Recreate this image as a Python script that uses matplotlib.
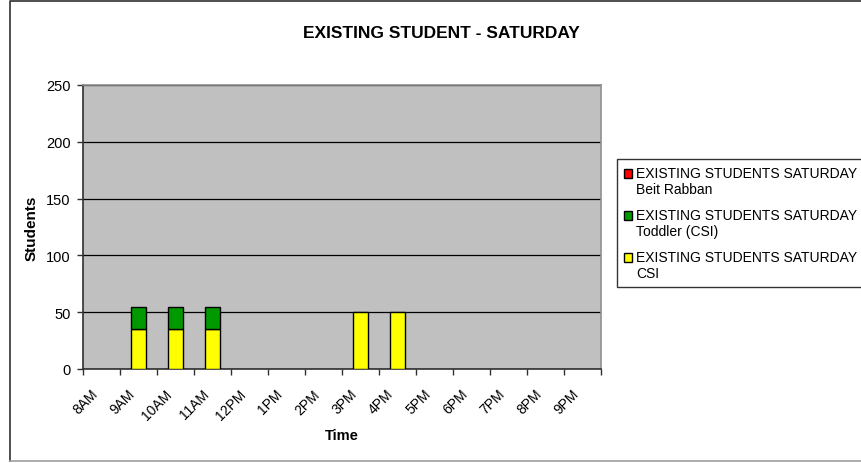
import numpy as np
import matplotlib.pyplot as plt
from matplotlib.patches import Patch, Rectangle
from matplotlib.lines import Line2D
from matplotlib.legend_handler import HandlerPatch
from matplotlib.transforms import ScaledTranslation

plt.rcParams['font.family'] = ['Liberation Sans', 'DejaVu Sans']

times = ['8AM', '9AM', '10AM', '11AM', '12PM', '1PM', '2PM', '3PM',
         '4PM', '5PM', '6PM', '7PM', '8PM', '9PM']
csi = [0, 35, 35, 35, 0, 0, 0, 50, 50, 0, 0, 0, 0, 0]
toddler = [0, 20, 20, 20, 0, 0, 0, 0, 0, 0, 0, 0, 0, 0]
beit_rabban = [0] * 14

series_names = ['EXISTING STUDENTS SATURDAY\nBeit Rabban',
                'EXISTING STUDENTS SATURDAY\nToddler (CSI)',
                'EXISTING STUDENTS SATURDAY\nCSI']
colors = ['#FF0000', '#009900', '#FFFF00']

fig = plt.figure(figsize=(8.62, 4.64), dpi=100)
fig.patch.set_facecolor('white')

# chart frame: dark top/left, light bottom
fig.lines.append(Line2D([10 / 862, 10 / 862, 1.0], [0.004, 1 - 2 / 464, 1 - 2 / 464],
                        transform=fig.transFigure, color='#303030', linewidth=1.2))
fig.lines.append(Line2D([10 / 862, 1.0], [2 / 464, 2 / 464],
                        transform=fig.transFigure, color='#a0a0a0', linewidth=1.2))

ax = fig.add_axes([83 / 862, 94 / 464, 517.7 / 862, 284 / 464])
ax.set_facecolor('#C0C0C0')


def edge_widths(vals):
    # no outline on empty segments
    return [1 if v else 0 for v in vals]


x = np.arange(len(times))
w = 0.4
csi_a = np.array(csi)
tod_a = np.array(toddler)
ax.bar(x, csi_a, w, color=colors[2], edgecolor='black',
       linewidth=edge_widths(csi), zorder=3)
ax.bar(x, tod_a, w, bottom=csi_a, color=colors[1], edgecolor='black',
       linewidth=edge_widths(toddler), zorder=3)
ax.bar(x, beit_rabban, w, bottom=csi_a + tod_a, color=colors[0],
       edgecolor='black', linewidth=edge_widths(beit_rabban), zorder=3)

ax.set_xlim(-0.5, len(times) - 0.5)
ax.set_ylim(0, 250)
ax.set_yticks(np.arange(0, 251, 50))
ax.yaxis.grid(True, color='black', linewidth=0.9, zorder=1)
ax.set_axisbelow(True)

# category boundaries get tick marks, centers get labels
ax.set_xticks(np.arange(-0.5, len(times)), minor=False)
ax.set_xticklabels([])
ax.set_xticks(x, minor=True)
ax.set_xticklabels(times, minor=True, rotation=45, ha='right',
                   va='center', rotation_mode='anchor')
ax.tick_params(axis='x', which='minor', length=0, pad=14, labelsize=10)
ax.tick_params(axis='x', which='major', length=4, width=1, color='#303030')
ax.tick_params(axis='y', length=4, width=1, color='#303030', labelsize=10.5,
               pad=5)
# nudge rotated labels left/down (after tick_params, which resets transforms)
shift = ScaledTranslation(-6 / 100, -3 / 100, fig.dpi_scale_trans)
for lbl in ax.get_xticklabels(minor=True):
    lbl.set_transform(lbl.get_transform() + shift)

for side in ['left', 'bottom']:
    ax.spines[side].set_color('#303030')
    ax.spines[side].set_linewidth(1.2)
for side in ['top', 'right']:
    ax.spines[side].set_color('#909090')
    ax.spines[side].set_linewidth(1.2)

ax.set_xlabel('Time', fontsize=10.5, fontweight='bold', labelpad=4)
ax.set_ylabel('Students', fontsize=11, fontweight='bold', labelpad=5)

fig.text(441 / 862, 1 - 33 / 464, 'EXISTING STUDENT - SATURDAY',
         ha='center', va='center', fontsize=12.5, fontweight='bold')


def top_box(legend, orig_handle, xdescent, ydescent, width, height, fontsize):
    # square beside the first line of a two-line entry
    return Rectangle((-xdescent, -ydescent + 0.6 * fontsize), width, height)


handles = [Patch(facecolor=c, edgecolor='black', linewidth=1) for c in colors]
leg = fig.legend(handles, series_names, loc='upper left',
                 bbox_to_anchor=(617 / 862, 1 - 160 / 464),
                 frameon=True, fancybox=False, fontsize=10,
                 handlelength=0.6, handleheight=0.6, handletextpad=0.3,
                 labelspacing=0.85, borderpad=0.5, borderaxespad=0,
                 handler_map={Patch: HandlerPatch(patch_func=top_box)})
leg.get_frame().set_edgecolor('black')
leg.get_frame().set_linewidth(1)

fig.savefig('out.png', dpi=100)
